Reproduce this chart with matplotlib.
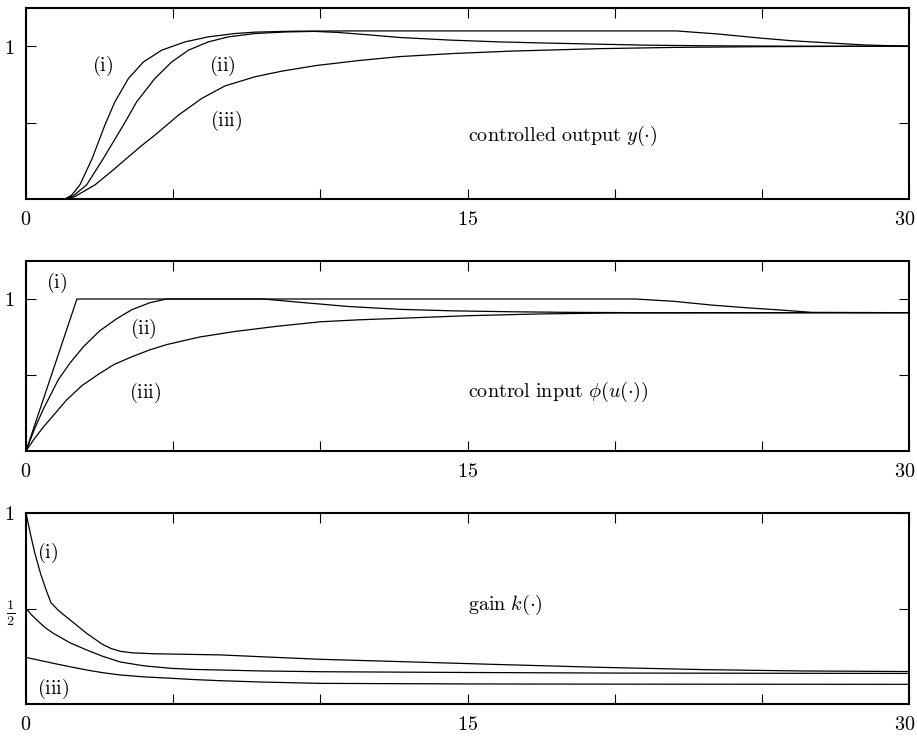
import matplotlib
matplotlib.use('Agg')
import matplotlib.pyplot as plt
from matplotlib.transforms import ScaledTranslation

plt.rcParams['mathtext.fontset'] = 'cm'
plt.rcParams['font.family'] = 'serif'
plt.rcParams['font.serif'] = ['DejaVu Serif']

# controlled output y(.)
y_i_t = [0, 1.33, 1.55, 1.83, 2.25, 2.68, 3.02, 3.48, 3.99, 4.61, 5.4, 6.19, 7.1, 7.78, 9, 11, 22.1, 23.5, 24.9, 26, 27.4, 28.5, 30]
y_i = [0, 0, 0.025, 0.092, 0.266, 0.484, 0.636, 0.789, 0.897, 0.974, 1.028, 1.061, 1.083, 1.092, 1.098, 1.1, 1.1, 1.08, 1.054, 1.036, 1.02, 1.008, 1.0]
y_ii_t = [0, 1.33, 1.6, 2.06, 2.63, 3.31, 3.76, 4.38, 4.95, 5.52, 6.19, 6.87, 7.78, 8.8, 9.8, 10.6, 11.6, 12.7, 14.4, 16.1, 17.8, 19.5, 21, 23, 26, 30]
y_ii = [0, 0, 0.02, 0.092, 0.266, 0.484, 0.636, 0.789, 0.897, 0.974, 1.028, 1.061, 1.083, 1.093, 1.097, 1.09, 1.075, 1.057, 1.04, 1.028, 1.02, 1.013, 1.007, 1.003, 1.0, 1.0]
y_iii_t = [0, 1.33, 1.65, 2.34, 2.9, 3.42, 3.9, 4.38, 5.18, 5.97, 6.76, 7.78, 8.7, 9.88, 11.3, 12.7, 14.5, 16.5, 19.5, 22, 25, 30]
y_iii = [0, 0, 0.015, 0.092, 0.18, 0.266, 0.345, 0.418, 0.549, 0.658, 0.74, 0.80, 0.837, 0.874, 0.906, 0.932, 0.952, 0.968, 0.984, 0.992, 0.997, 1.0]

# control input phi(u(.))
u_i_t = [0, 1.73, 20.7, 22, 23.3, 24.5, 25.6, 26.7, 30]
u_i = [0, 1, 1, 0.985, 0.96, 0.942, 0.928, 0.912, 0.91]
u_ii_t = [0, 0.3, 0.6, 1.1, 1.5, 1.95, 2.5, 3.08, 3.6, 4.2, 4.78, 8.05, 9.5, 11, 12.7, 14.5, 16.5, 18.5, 21, 30]
u_ii = [0, 0.15, 0.28, 0.47, 0.58, 0.686, 0.79, 0.87, 0.93, 0.975, 1.0, 1.0, 0.975, 0.95, 0.932, 0.922, 0.916, 0.912, 0.91, 0.91]
u_iii_t = [0, 0.3, 0.6, 1.0, 1.38, 1.9, 2.5, 3.0, 3.6, 4.2, 4.78, 5.9, 7.05, 8.5, 10, 11.3, 12.7, 15, 17.5, 20, 30]
u_iii = [0, 0.085, 0.16, 0.25, 0.336, 0.43, 0.51, 0.57, 0.62, 0.665, 0.70, 0.75, 0.785, 0.82, 0.85, 0.863, 0.873, 0.89, 0.902, 0.908, 0.91]

# gain k(.)
k_i_t = [0, 0.15, 0.3, 0.5, 0.7, 0.85, 1.1, 1.5, 2.06, 2.6, 2.9, 3.2, 3.6, 4.33, 5.5, 6.6, 8.2, 10, 12.7, 16, 19.5, 23, 26.3, 30]
k_i = [1, 0.89, 0.79, 0.68, 0.59, 0.53, 0.49, 0.44, 0.37, 0.312, 0.29, 0.276, 0.268, 0.263, 0.26, 0.257, 0.246, 0.234, 0.222, 0.207, 0.192, 0.18, 0.173, 0.17]
k_ii_t = [0, 0.2, 0.4, 0.65, 0.93, 1.5, 2.06, 2.6, 3.2, 4.0, 4.9, 5.7, 6.6, 8, 10, 15, 20, 30]
k_ii = [0.5, 0.465, 0.435, 0.4, 0.37, 0.32, 0.283, 0.25, 0.22, 0.2, 0.187, 0.181, 0.178, 0.173, 0.169, 0.165, 0.162, 0.16]
k_iii_t = [0, 0.93, 1.5, 2.06, 2.6, 3.2, 4.0, 4.9, 5.7, 6.6, 8, 10, 15, 20, 30]
k_iii = [0.244, 0.213, 0.195, 0.178, 0.164, 0.152, 0.142, 0.135, 0.128, 0.122, 0.115, 0.108, 0.105, 0.104, 0.103]

x_ticks = [0, 5, 10, 15, 20, 25, 30]
x_labels = ['$0$', '', '', '$15$', '', '', '$30$']

fig = plt.figure(figsize=(9.17, 7.4), dpi=100)
boxes = [(26, 8, 199), (26, 261, 451), (26, 513, 704)]
axes = []
for left, top, bottom in boxes:
    ax = fig.add_axes([left / 917, 1 - bottom / 740, (909 - left) / 917, (bottom - top) / 740])
    axes.append(ax)

fs = 14.5
for ax in axes:
    ax.set_xlim(0, 30)
    ax.set_xticks(x_ticks)
    ax.set_xticklabels(x_labels, fontsize=fs)
    ax.tick_params(direction='in', top=True, right=True, length=7, width=0.8, pad=8)
    for s in ax.spines.values():
        s.set_linewidth(1.5)
    # last label sits flush with the right edge of the figure
    last = ax.get_xticklabels()[-1]
    last.set_horizontalalignment('right')
    last.set_transform(last.get_transform() + ScaledTranslation(0.06, 0, fig.dpi_scale_trans))

lw = 0.9
ax1, ax2, ax3 = axes
ax1.plot(y_i_t, y_i, 'k-', lw=lw)
ax1.plot(y_ii_t, y_ii, 'k-', lw=lw)
ax1.plot(y_iii_t, y_iii, 'k-', lw=lw)
ax1.set_ylim(0, 1.25)
ax1.set_yticks([0.5, 1])
ax1.set_yticklabels(['', '$1$'], fontsize=fs)
ax1.text(2.62, 0.87, r'$\mathrm{(i)}$', fontsize=fs, ha='center', va='center')
ax1.text(6.66, 0.87, r'$\mathrm{(ii)}$', fontsize=fs, ha='center', va='center')
ax1.text(6.8, 0.51, r'$\mathrm{(iii)}$', fontsize=fs, ha='center', va='center')
ax1.text(15.0, 0.41, r'$\mathrm{controlled\ output}\ y(\cdot)$', fontsize=fs, ha='left', va='center')

ax2.plot(u_i_t, u_i, 'k-', lw=lw)
ax2.plot(u_ii_t, u_ii, 'k-', lw=lw)
ax2.plot(u_iii_t, u_iii, 'k-', lw=lw)
ax2.set_ylim(0, 1.25)
ax2.set_yticks([0.5, 1])
ax2.set_yticklabels(['', '$1$'], fontsize=fs)
ax2.text(1.05, 1.105, r'$\mathrm{(i)}$', fontsize=fs, ha='center', va='center')
ax2.text(3.98, 0.80, r'$\mathrm{(ii)}$', fontsize=fs, ha='center', va='center')
ax2.text(4.04, 0.38, r'$\mathrm{(iii)}$', fontsize=fs, ha='center', va='center')
ax2.text(15.0, 0.39, r'$\mathrm{control\ input}\ \phi(u(\cdot))$', fontsize=fs, ha='left', va='center')

ax3.plot(k_i_t, k_i, 'k-', lw=lw)
ax3.plot(k_ii_t, k_ii, 'k-', lw=lw)
ax3.plot(k_iii_t, k_iii, 'k-', lw=lw)
ax3.set_ylim(0, 1)
ax3.set_yticks([0.5, 1])
ax3.set_yticklabels([r'$\frac{1}{2}$', '$1$'], fontsize=fs)
ax3.text(0.75, 0.79, r'$\mathrm{(i)}$', fontsize=fs, ha='center', va='center')
ax3.text(0.92, 0.08, r'$\mathrm{(iii)}$', fontsize=fs, ha='center', va='center')
ax3.text(15.0, 0.52, r'$\mathrm{gain}\ k(\cdot)$', fontsize=fs, ha='left', va='center')

fig.savefig('out.png', dpi=100)
